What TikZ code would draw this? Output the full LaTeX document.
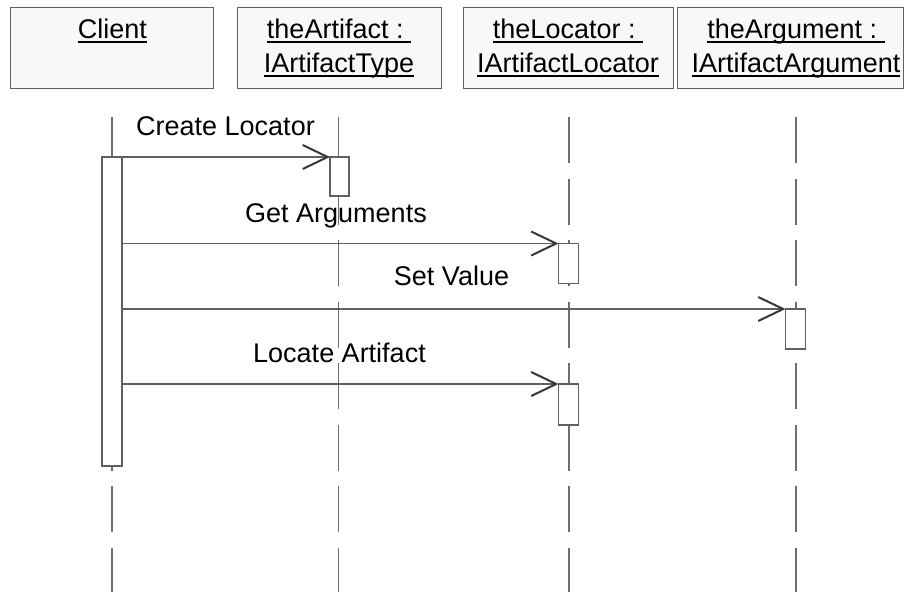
\documentclass[tikz,border=0pt]{standalone}
\usepackage{fontspec}
\setmainfont{Liberation Sans}
\usetikzlibrary{arrows.meta}
\definecolor{boxfill}{RGB}{248,248,248}
\definecolor{edge}{RGB}{96,96,96}
\definecolor{life}{RGB}{110,110,110}
\definecolor{tipcol}{RGB}{55,55,55}
\begin{document}
\begin{tikzpicture}[x=1pt,y=-1pt,
  every node/.style={inner sep=0pt, outer sep=0pt},
  headbox/.style={draw=edge, fill=boxfill, line width=1pt, rectangle, minimum height=81pt},
  lbl/.style={font=\fontsize{27}{34}\selectfont, anchor=base, text=black},
  uline/.style={line width=1.8pt, black},
  lifeline/.style={draw=life, line width=1.5pt, dash pattern=on 46pt off 15.5pt},
  act/.style={draw=edge, fill=white, line width=1.2pt, rectangle, minimum width=20pt},
  msg/.style={draw=edge, line width=1.4pt,
    -{Straight Barb[length=25pt, width=24pt, line width=2pt, color=tipcol]}}
]
\useasboundingbox (0,0) rectangle (910,592);

% object boxes
\node[headbox, minimum width=203pt] (client)   at (111.5,47.5) {};
\node[headbox, minimum width=204pt] (artifact) at (339,47.5) {};
\node[headbox, minimum width=210pt] (locator)  at (568,47.5) {};
\node[headbox, minimum width=226pt] (argument) at (790,47.5) {};

% object names (underlined)
\node[lbl] (clientT)  at (112.5,38) {Client};
\node[lbl] (artT1)    at (339,38) {theArtifact :\kern7.5pt};
\node[lbl] (artT2)    at (339,72) {IArtifactType};
\node[lbl] (locT1)    at (568,38) {theLocator :\kern7.5pt};
\node[lbl] (locT2)    at (568,72) {IArtifactLocator};
\node[lbl] (argT1)    at (796,38) {theArgument :\kern7.5pt};
\node[lbl] (argT2)    at (796,72) {IArtifactArgument};
\foreach \t in {clientT,artT1,artT2,locT1,locT2,argT1,argT2}
  \draw[uline] ([yshift=-4pt]\t.base west) -- ([yshift=-4pt]\t.base east);

% lifelines
\coordinate (clientS) at (112,117);   \coordinate (clientE) at (112,592);
\coordinate (artS)    at (338.5,117); \coordinate (artE)    at (338.5,592);
\coordinate (locS)    at (569,117);   \coordinate (locE)    at (569,592);
\coordinate (argS)    at (796,117);   \coordinate (argE)    at (796,592);
\draw[lifeline] (clientS) -- (clientE);
\draw[lifeline] (artS) -- (artE);
\draw[lifeline] (locS) -- (locE);
\draw[lifeline] (argS) -- (argE);

% activation bars
\node[act, minimum height=309pt] (clientAct) at (112,311.5) {};
\node[act, minimum width=19pt, minimum height=39pt] (artAct) at (339.5,176.5) {};
\node[act, minimum height=40pt] (locAct1) at (568.5,263.5) {};
\node[act, minimum height=40pt] (argAct)  at (795.5,329) {};
\node[act, minimum height=41pt] (locAct2) at (568.5,404.5) {};

% messages
\draw[msg] (clientAct.east |- artAct.north west) -- (artAct.north west);
\draw[msg] (clientAct.east |- locAct1.north west) -- (locAct1.north west);
\draw[msg] (clientAct.east |- argAct.north west) -- (argAct.north west);
\draw[msg] (clientAct.east |- locAct2.north west) -- (locAct2.north west);

% message labels
\node[lbl] (m1) at (225.5,135) {Create Locator};
\node[lbl] (m2) at (336,222) {Get Arguments};
\node[lbl] (m3) at (451.5,285) {Set Value};
\node[lbl] (m4) at (339.5,362) {Locate Artifact};
\end{tikzpicture}
\end{document}
